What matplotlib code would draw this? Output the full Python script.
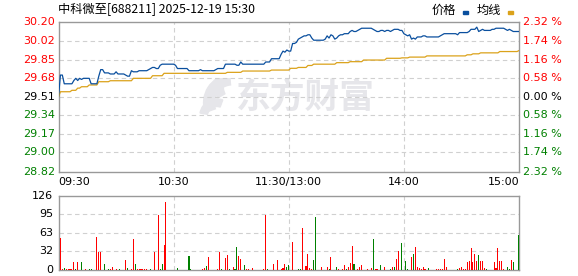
import matplotlib
matplotlib.use("Agg")
import matplotlib.pyplot as plt
import numpy as np
from matplotlib.patches import Wedge

# ---------------- data ----------------
title = "中科微至[688211] 2025-12-19 15:30"
prev_close = 29.51
price_ticks = [30.20, 30.02, 29.85, 29.68, 29.51, 29.34, 29.17, 29.00, 28.82]
pct_labels = ["2.32", "1.74", "1.16", "0.58", "0.00", "0.58", "1.16", "1.74", "2.32"]
time_labels = ["09:30", "10:30", "11:30/13:00", "14:00", "15:00"]
time_pos = [0, 60, 120, 180, 240]
vol_ticks = [0, 32, 63, 95, 126]

price = [
    29.51, 29.71, 29.71, 29.63, 29.63, 29.63, 29.63, 29.63, 29.66, 29.68,
    29.66, 29.68, 29.67, 29.68, 29.68, 29.68, 29.68, 29.63, 29.63, 29.63,
    29.63, 29.70, 29.76, 29.76, 29.73, 29.73, 29.73, 29.72, 29.72, 29.72,
    29.74, 29.72, 29.72, 29.72, 29.72, 29.71, 29.70, 29.70, 29.75, 29.74,
    29.74, 29.74, 29.75, 29.75, 29.75, 29.75, 29.75, 29.76, 29.77, 29.78,
    29.78, 29.77, 29.77, 29.80, 29.81, 29.81, 29.81, 29.81, 29.81, 29.81,
    29.81, 29.80, 29.77, 29.77, 29.77, 29.77, 29.77, 29.77, 29.75, 29.75,
    29.75, 29.75, 29.75, 29.75, 29.76, 29.75, 29.75, 29.75, 29.75, 29.75,
    29.75, 29.75, 29.76, 29.77, 29.77, 29.77, 29.77, 29.81, 29.81, 29.81,
    29.81, 29.81, 29.81, 29.80, 29.80, 29.83, 29.81, 29.81, 29.81, 29.81,
    29.81, 29.81, 29.81, 29.81, 29.81, 29.81, 29.81, 29.81, 29.83, 29.83,
    29.83, 29.86, 29.86, 29.86, 29.86, 29.86, 29.90, 29.93, 29.92, 29.94,
    29.93, 29.93, 30.00, 30.00, 30.01, 30.04, 30.05, 30.06, 30.07, 30.07,
    30.08, 30.08, 30.05, 30.03, 30.03, 30.03, 30.03, 30.03, 30.03, 30.04,
    30.07, 30.05, 30.08, 30.07, 30.04, 30.05, 30.07, 30.08, 30.08, 30.09,
    30.09, 30.09, 30.11, 30.12, 30.11, 30.11, 30.12, 30.13, 30.14, 30.14,
    30.14, 30.14, 30.14, 30.14, 30.13, 30.12, 30.11, 30.11, 30.12, 30.12,
    30.11, 30.12, 30.12, 30.11, 30.12, 30.13, 30.13, 30.13, 30.12, 30.12,
    30.09, 30.08, 30.07, 30.08, 30.04, 30.05, 30.04, 30.06, 30.06, 30.06,
    30.07, 30.07, 30.06, 30.06, 30.06, 30.06, 30.06, 30.06, 30.06, 30.07,
    30.08, 30.09, 30.09, 30.09, 30.09, 30.09, 30.09, 30.09, 30.08, 30.10,
    30.10, 30.10, 30.10, 30.10, 30.11, 30.13, 30.13, 30.13, 30.15, 30.11,
    30.12, 30.13, 30.12, 30.12, 30.12, 30.12, 30.13, 30.13, 30.14, 30.14,
    30.14, 30.14, 30.14, 30.13, 30.12, 30.13, 30.12, 30.11, 30.11, 30.11,
    30.11,
]

avg = [
    29.510, 29.557, 29.557, 29.557, 29.557, 29.557, 29.557, 29.570, 29.570, 29.570,
    29.590, 29.590, 29.603, 29.603, 29.603, 29.603, 29.619, 29.619, 29.619, 29.619,
    29.619, 29.649, 29.649, 29.649, 29.649, 29.649, 29.649, 29.658, 29.658, 29.658,
    29.658, 29.658, 29.658, 29.658, 29.658, 29.658, 29.658, 29.658, 29.658, 29.680,
    29.680, 29.680, 29.680, 29.680, 29.680, 29.680, 29.680, 29.680, 29.680, 29.704,
    29.704, 29.704, 29.704, 29.704, 29.704, 29.726, 29.726, 29.726, 29.726, 29.726,
    29.726, 29.726, 29.726, 29.726, 29.726, 29.726, 29.726, 29.726, 29.726, 29.726,
    29.726, 29.726, 29.726, 29.726, 29.726, 29.726, 29.726, 29.726, 29.726, 29.726,
    29.726, 29.726, 29.726, 29.726, 29.726, 29.726, 29.726, 29.726, 29.735, 29.735,
    29.735, 29.735, 29.735, 29.735, 29.735, 29.735, 29.747, 29.747, 29.747, 29.747,
    29.747, 29.747, 29.747, 29.747, 29.747, 29.747, 29.747, 29.747, 29.747, 29.747,
    29.747, 29.756, 29.756, 29.756, 29.756, 29.756, 29.756, 29.756, 29.756, 29.756,
    29.756, 29.772, 29.772, 29.772, 29.772, 29.780, 29.780, 29.780, 29.780, 29.780,
    29.798, 29.798, 29.798, 29.810, 29.810, 29.810, 29.810, 29.810, 29.810, 29.810,
    29.810, 29.810, 29.810, 29.810, 29.810, 29.824, 29.824, 29.824, 29.824, 29.824,
    29.824, 29.824, 29.833, 29.833, 29.833, 29.833, 29.833, 29.833, 29.833, 29.848,
    29.848, 29.848, 29.848, 29.848, 29.848, 29.848, 29.848, 29.848, 29.848, 29.848,
    29.848, 29.864, 29.864, 29.864, 29.864, 29.864, 29.864, 29.864, 29.864, 29.868,
    29.868, 29.868, 29.868, 29.875, 29.875, 29.875, 29.875, 29.875, 29.875, 29.875,
    29.875, 29.875, 29.886, 29.886, 29.886, 29.886, 29.886, 29.886, 29.886, 29.886,
    29.886, 29.886, 29.886, 29.886, 29.886, 29.886, 29.886, 29.886, 29.886, 29.886,
    29.886, 29.886, 29.886, 29.896, 29.896, 29.896, 29.905, 29.905, 29.905, 29.905,
    29.914, 29.914, 29.914, 29.914, 29.914, 29.914, 29.914, 29.914, 29.914, 29.914,
    29.926, 29.926, 29.926, 29.926, 29.926, 29.926, 29.926, 29.926, 29.926, 29.926,
    29.935,
]

vol_minute = [
    1, 2, 3, 4, 5, 6, 7, 8, 9, 10, 12, 14, 16, 17, 20, 21, 22, 24, 26, 27, 28, 30,
    32, 35, 36, 38, 39, 40, 41, 42, 43, 44, 45, 46, 48, 50, 52, 53, 54, 55, 56,
    62, 68, 69, 75, 76, 77, 78, 83, 84, 85, 87, 88, 89, 91, 92, 93, 94, 95, 97,
    98, 99, 101, 107, 108, 109, 112, 114, 116, 117, 118, 119, 120,
    122, 125, 126, 127, 129, 130, 131, 132, 133, 134, 137, 140, 141, 142, 145,
    146, 148, 149, 150, 151, 152, 153, 154, 156, 157, 158, 161, 163, 164, 165,
    166, 168, 170, 173, 174, 175, 176, 177, 179, 181, 182, 184, 185, 186, 187,
    188, 189, 190, 191, 193, 197, 198, 199, 200, 201, 202, 208, 209, 210, 211,
    212, 213, 214, 215, 216, 217, 218, 219, 220, 221, 222, 223, 227, 228, 229,
    230, 231, 232, 234, 235, 236, 237, 240,
]
vol_value = [
    54, 2, 4, 2, 2, 2, 2, 14, 2, 14, 14, 2, 2, 2, 56, 30, 31, 10, 2, 2, 5, 2,
    2, 17, 3, 2, 52, 10, 2, 2, 2, 2, 2, 2, 2, 31, 94, 2, 10, 42, 116,
    3, 24, 2, 2, 4, 6, 22, 2, 31, 2, 20, 26, 2, 5, 2, 39, 24, 19, 9,
    2, 2, 3, 2, 93, 2, 11, 17, 2, 4, 11, 5, 9,
    48, 2, 2, 72, 7, 27, 3, 2, 17, 91, 5, 5, 2, 22, 5,
    2, 2, 9, 2, 5, 12, 41, 10, 2, 5, 9, 2, 3, 53, 2,
    2, 9, 5, 2, 5, 5, 19, 33, 46, 16, 2, 22, 27, 40, 5,
    3, 2, 5, 2, 3, 2, 2, 2, 2, 19, 5, 2, 3, 5, 2,
    2, 14, 15, 37, 14, 27, 16, 26, 15, 15, 3, 2, 14, 3, 37,
    15, 15, 2, 5, 2, 17, 14, 60,
]
# 1 = up (red), 0 = down (green)
vol_up = [
    1, 1, 0, 1, 1, 1, 1, 1, 0, 1, 0, 1, 0, 0, 1, 1, 1, 0, 0, 1, 1, 1,
    0, 1, 0, 1, 1, 0, 1, 1, 1, 1, 1, 1, 0, 1, 1, 0, 0, 1, 1,
    0, 0, 0, 1, 1, 0, 1, 1, 1, 0, 1, 1, 0, 1, 0, 0, 1, 1, 0,
    1, 1, 1, 1, 1, 0, 1, 1, 1, 1, 1, 0, 0,
    1, 0, 0, 1, 1, 1, 1, 1, 0, 0, 1, 1, 0, 1, 0,
    1, 1, 1, 0, 1, 1, 1, 0, 1, 1, 1, 1, 1, 0, 1,
    1, 0, 1, 0, 1, 0, 1, 1, 0, 0, 0, 1, 0, 1, 1,
    1, 1, 1, 1, 0, 1, 1, 1, 1, 1, 1, 0, 1, 1, 1,
    1, 1, 1, 1, 1, 1, 1, 0, 1, 1, 1, 0, 1, 1, 1,
    1, 1, 1, 0, 0, 1, 0, 0,
]

# ---------------- style ----------------
RED = "#ff0000"
GREEN = "#008000"
BLUE = "#0a4f9e"
GOLD = "#dba21a"
GRID = "#d0d0d0"
FRAME = "#999999"
WM = "#e6e6ea"

W, H = 578, 276
fig = plt.figure(figsize=(W / 100, H / 100), dpi=100)

def fx(px):
    return px / W

def fy(py):
    return 1 - py / H

L, R = 58.5, 519.0
ax = fig.add_axes([fx(L), fy(172), fx(R - L), (172 - 21.7) / H])
axv = fig.add_axes([fx(L), fy(270), fx(R - L), (270 - 196) / H])

x = np.arange(len(price))
ymin, ymax = price_ticks[-1], price_ticks[0]

# watermark (logo + text)
fig.text(fx(236), fy(97), "东方财富", ha="left", va="center",
         fontsize=25, fontweight="bold", color=WM,
         family=["Noto Sans CJK SC"], zorder=0)
wax = fig.add_axes([fx(196), fy(116), fx(38), 38 / H], zorder=0)
wax.set_xlim(0, 1)
wax.set_ylim(0, 1)
wax.set_aspect("auto")
wax.axis("off")
wax.add_patch(Wedge((0.95, 0.35), 0.75, 95, 200, width=0.28, color=WM))
wax.add_patch(Wedge((1.05, 0.75), 0.55, 110, 210, width=0.22, color=WM))
wax.add_patch(Wedge((0.55, 0.0), 0.45, 70, 170, width=0.2, color=WM))
ax.set_zorder(2)
ax.patch.set_alpha(0)

for t in time_pos[1:-1]:
    ax.axvline(t, color=GRID, lw=0.8, ls=(0, (4, 3)), zorder=1)
    axv.axvline(t, color=GRID, lw=0.8, ls=(0, (4, 3)), zorder=1)
for v in price_ticks[1:-1]:
    ax.axhline(v, color=GRID, lw=0.8, ls=(0, (4, 3)), zorder=1)
for v in vol_ticks[1:-1]:
    axv.axhline(v, color=GRID, lw=0.8, ls=(0, (4, 3)), zorder=1)

ax.plot(x, avg, color=GOLD, lw=0.9, zorder=3)
ax.plot(x, price, color=BLUE, lw=0.9, zorder=4)

ax.set_xlim(0, 240)
ax.set_ylim(ymin, ymax)
ax.set_xticks([])
ax.set_yticks([])
for s in ax.spines.values():
    s.set_color(FRAME)
    s.set_linewidth(1.0)

# left price labels and right percent labels
for i, v in enumerate(price_ticks):
    c = RED if v > prev_close else ("black" if abs(v - prev_close) < 1e-9 else GREEN)
    ax.text(-0.008, v, f"{v:.2f}", transform=ax.get_yaxis_transform(), ha="right",
            va="center", fontsize=8, color=c)
    pc = RED if i < 4 else ("black" if i == 4 else GREEN)
    ax.text(1.008, v, pct_labels[i] + " %", transform=ax.get_yaxis_transform(),
            ha="left", va="center", fontsize=8, color=pc)

# time labels
for t, lab in zip(time_pos, time_labels):
    ha = "left" if t == 0 else ("right" if t == 240 else "center")
    ax.text(t, -0.035, lab, transform=ax.get_xaxis_transform(), ha=ha, va="top",
            fontsize=8, color="black")

# volume
colors = [RED if u else GREEN for u in vol_up]
axv.bar(vol_minute, vol_value, width=0.55, color=colors, zorder=3, linewidth=0)
axv.set_xlim(0, 240)
axv.set_ylim(0, vol_ticks[-1])
axv.set_xticks([])
axv.set_yticks([])
for s in axv.spines.values():
    s.set_color(FRAME)
    s.set_linewidth(1.0)
for v in vol_ticks:
    axv.text(-0.012, v, str(v), transform=axv.get_yaxis_transform(), ha="right",
             va="center", fontsize=8, color="black")

# title & legend
fig.text(fx(58), fy(10), title, ha="left", va="center", fontsize=8.8,
         family=["Noto Sans CJK SC", "DejaVu Sans"], color="black")
fig.text(fx(432), fy(10), "价格", ha="left", va="center", fontsize=8.8,
         family=["Noto Sans CJK SC"], color="black")
fig.patches.append(plt.Rectangle((fx(463), fy(14)), fx(5), 3 / H, color=BLUE,
                                 transform=fig.transFigure, figure=fig))
fig.text(fx(477), fy(10), "均线", ha="left", va="center", fontsize=8.8,
         family=["Noto Sans CJK SC"], color="black")
fig.patches.append(plt.Rectangle((fx(508), fy(14)), fx(5), 3 / H, color=GOLD,
                                 transform=fig.transFigure, figure=fig))

fig.savefig("out.png", dpi=100)
